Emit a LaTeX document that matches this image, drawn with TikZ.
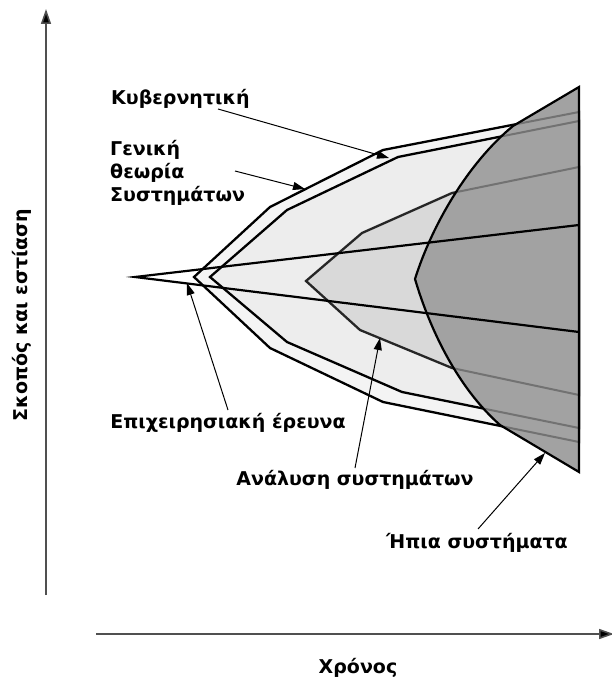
\documentclass[tikz,border=0pt]{standalone}
\usepackage{fontspec}
\setmainfont{DejaVu Sans}
\usetikzlibrary{arrows.meta}
\definecolor{bandA}{HTML}{F4F4F4}
\definecolor{bandB}{HTML}{EDEDED}
\definecolor{bandC}{HTML}{D9D9D9}
\definecolor{bandD}{HTML}{A2A2A2}
\definecolor{ghost}{HTML}{727272}
\definecolor{axisgray}{HTML}{505050}
\begin{document}
\begin{tikzpicture}[x=1pt,y=-1pt,
  edge/.style={line width=2.3pt, line join=miter},
  ghostedge/.style={line width=2pt, draw=ghost},
  pointer/.style={line width=1pt, -{Triangle[length=12pt,width=8pt]}},
  axis/.style={line width=1.6pt, draw=axisgray, -{Triangle[length=15pt,width=10pt,fill=black]}},
  lab/.style={font=\bfseries\fontsize{19}{23}\selectfont, inner sep=0pt, align=left},
]
\useasboundingbox (0,0) rectangle (611,679);

\def\outerpath{(194,277) -- (270,207) -- (383,150) -- (579,112) -- (579,442) -- (383,402) -- (270,348) -- cycle}
\def\innerpath{(210,277) -- (287,210) -- (398,157) -- (579,121) -- (579,428) -- (402,392) -- (287,342) -- cycle}
\def\midpath{(306,281) -- (362,233) -- (452,193) -- (579,167) -- (579,395) -- (452,368) -- (360,330) -- cycle}
\def\darkpath{(579,87) -- (513,126) .. controls (468,163) and (432,225) .. (415,279) .. controls (430,330) and (458,388) .. (500,425) -- (579,472) -- cycle}

% nested regions
\fill[bandA] \outerpath;
\draw[edge] \outerpath;
\fill[bandB] \innerpath;
\draw[edge] \innerpath;
\fill[bandC] \midpath;
\draw[edge, draw=black!85] \midpath;
\fill[bandD] \darkpath;
\begin{scope}
  \clip \darkpath;
  \draw[ghostedge] \outerpath;
  \draw[ghostedge] \innerpath;
  \draw[ghostedge] \midpath;
\end{scope}
\draw[line width=2.2pt, line join=miter] \darkpath;

% operational research wedge
\coordinate (tip) at (135,277);
\coordinate (wedgeTop) at (579,225);
\coordinate (wedgeBot) at (579,332);
\draw[line width=2.2pt] (wedgeTop) -- (tip) -- (wedgeBot);

% axes
\coordinate (yBase) at (46,595);
\coordinate (yTop) at (46,9);
\coordinate (xBase) at (96,634);
\coordinate (xEnd) at (614,634);
\draw[axis] (yBase) -- (yTop);
\draw[axis] (xBase) -- (xEnd);
\node[lab, rotate=90] (ylab) at (22,315) {Σκοπός και εστίαση};
\node[lab] (xlab) at (358,668) {Χρόνος};

% labels
\node[lab, anchor=west] (kyb) at (111,99) {Κυβερνητική};
\node[lab, anchor=west] (gen1) at (110,150) {Γενική};
\node[lab, anchor=west] (gen2) at (110,173) {θεωρία};
\node[lab, anchor=west] (gen3) at (110,196) {Συστημάτων};
\node[lab] (ore) at (228,423) {Επιχειρησιακή έρευνα};
\node[lab] (ana) at (355,480) {Ανάλυση συστημάτων};
\node[lab] (ipia) at (477,543) {Ήπια συστήματα};

% pointers
\coordinate (kybS) at (218,109);
\coordinate (kybT) at (389,158);
\coordinate (genS) at (235,171);
\coordinate (genT) at (305,189);
\coordinate (oreS) at (228,410);
\coordinate (oreT) at (187,283);
\coordinate (anaS) at (355,468);
\coordinate (anaT) at (380,338);
\coordinate (ipiaS) at (478,529);
\coordinate (ipiaT) at (545,453);
\draw[pointer] (kybS) -- (kybT);
\draw[pointer] (genS) -- (genT);
\draw[pointer] (oreS) -- (oreT);
\draw[pointer] (anaS) -- (anaT);
\draw[pointer] (ipiaS) -- (ipiaT);
\end{tikzpicture}
\end{document}
